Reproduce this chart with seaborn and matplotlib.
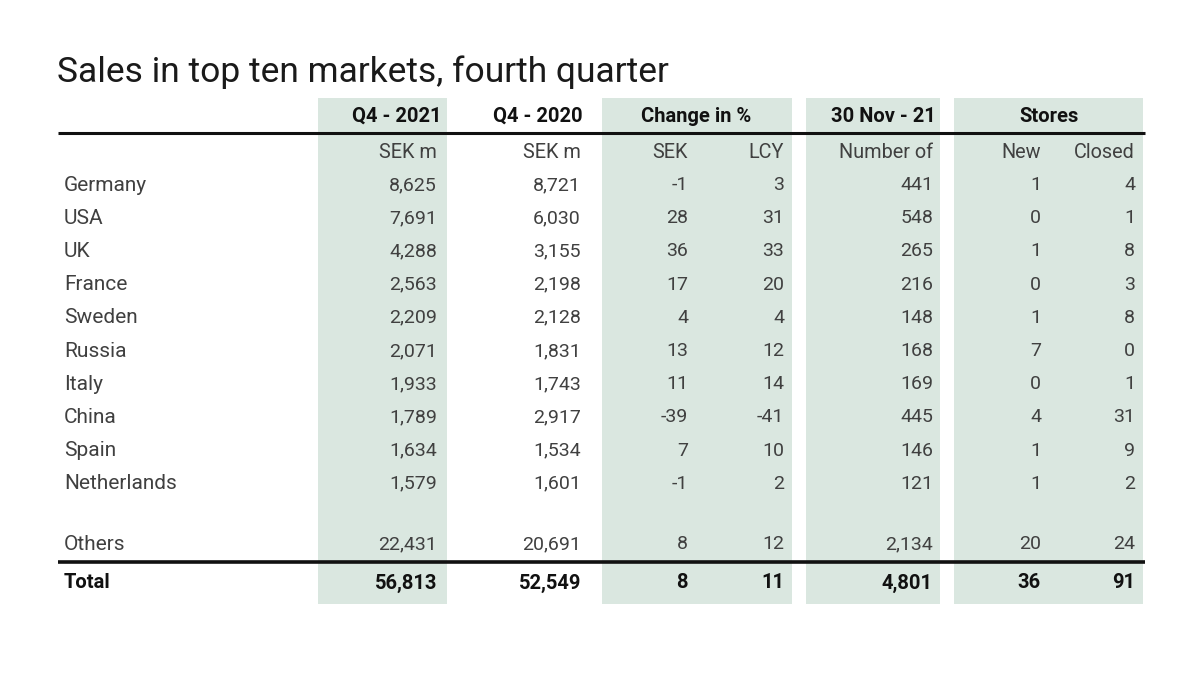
import numpy as np
import pandas as pd
import seaborn as sns
import matplotlib.pyplot as plt

# table values
markets = ["Germany", "USA", "UK", "France", "Sweden", "Russia", "Italy",
           "China", "Spain", "Netherlands"]
q4_2021 = [8625, 7691, 4288, 2563, 2209, 2071, 1933, 1789, 1634, 1579]
q4_2020 = [8721, 6030, 3155, 2198, 2128, 1831, 1743, 2917, 1534, 1601]
chg_sek = [-1, 28, 36, 17, 4, 13, 11, -39, 7, -1]
chg_lcy = [3, 31, 33, 20, 4, 12, 14, -41, 10, 2]
num_stores = [441, 548, 265, 216, 148, 168, 169, 445, 146, 121]
new_stores = [1, 0, 1, 0, 1, 7, 0, 4, 1, 1]
closed_stores = [4, 1, 8, 3, 8, 0, 1, 31, 9, 2]
others = [22431, 20691, 8, 12, 2134, 20, 24]
total = [56813, 52549, 8, 11, 4801, 36, 91]

title = "Sales in top ten markets, fourth quarter"
group_headers = ["Q4 - 2021", "Q4 - 2020", "Change in %", "30 Nov - 21", "Stores"]
sub_headers = ["SEK m", "SEK m", "SEK", "LCY", "Number of", "New", "Closed"]

df = pd.DataFrame({
    "market": markets, "q4_2021": q4_2021, "q4_2020": q4_2020,
    "sek": chg_sek, "lcy": chg_lcy, "stores": num_stores,
    "new": new_stores, "closed": closed_stores,
})
value_cols = ["q4_2021", "q4_2020", "sek", "lcy", "stores", "new", "closed"]

sns.set_theme(style="white")
plt.rcParams["font.family"] = ["Roboto", "DejaVu Sans"]

fig = plt.figure(figsize=(12, 6.91), dpi=100)
ax = fig.add_axes([0, 0, 1, 1])
ax.set_xlim(0, 1200)
ax.set_ylim(691, 0)
ax.axis("off")

shade = "#dae7e0"
body = "#404040"
dark = "#111111"

# shaded column bands
for x0, x1 in [(318, 447), (602, 792), (806, 940), (954, 1143)]:
    ax.axvspan(x0, x1, ymin=1 - 604 / 691, ymax=1 - 98 / 691, color=shade, lw=0, zorder=0)

ax.text(57, 72, title, fontsize=25.5, color="#1a1a1a", va="center", ha="left")

# group headers
hdr_pos = [(441, "right"), (583, "right"), (696, "center"), (936, "right"), (1049, "center")]
for (x, ha), lab in zip(hdr_pos, group_headers):
    ax.text(x, 116, lab, fontsize=14.5, fontweight="bold", color=dark, ha=ha, va="center")

ax.plot([58, 1145], [133, 133], color=dark, lw=2.2, solid_capstyle="butt", zorder=3)

col_right = [437, 581, 688, 784, 933, 1041, 1135]
for x, lab in zip(col_right, sub_headers):
    ax.text(x, 152, lab, fontsize=14.3, color=body, ha="right", va="center")

y0, step = 185, 33.2
for i, row in df.iterrows():
    y = y0 + i * step
    ax.text(64, y, row["market"], fontsize=15, color=body, ha="left", va="center")
    for x, c in zip(col_right, value_cols):
        ax.text(x, y, f"{row[c]:,}", fontsize=14, color=body, ha="right", va="center")

ax.text(64, 544, "Others", fontsize=15, color=body, ha="left", va="center")
for x, v in zip(col_right, others):
    ax.text(x, 544, f"{v:,}", fontsize=14, color=body, ha="right", va="center")

ax.plot([58, 1145], [562, 562], color=dark, lw=2.6, solid_capstyle="butt", zorder=3)

ax.text(64, 583, "Total", fontsize=14.5, fontweight="bold", color=dark, ha="left", va="center")
for x, v in zip(col_right, total):
    ax.text(x, 583, f"{v:,}", fontsize=14.5, fontweight="bold", color=dark, ha="right", va="center")

fig.savefig("out.png", dpi=100, facecolor="white")
